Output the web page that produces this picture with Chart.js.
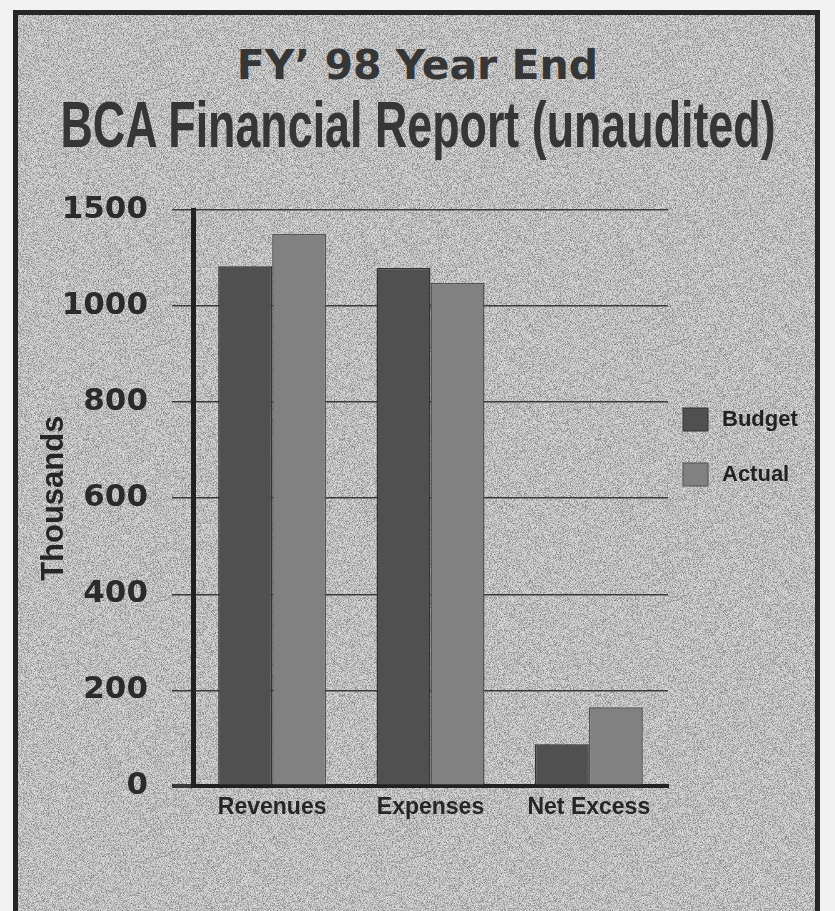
<!DOCTYPE html>
<html>
<head>
<meta charset="utf-8">
<title>BCA Financial Report</title>
<script src="https://cdn.jsdelivr.net/npm/chart.js@4.4.0/dist/chart.umd.min.js"></script>
<style>
  html, body { margin: 0; padding: 0; background: #f2f2f2; }
  #page { position: relative; width: 835px; height: 911px; overflow: hidden; }
  #frame {
    position: absolute; left: 13px; top: 10px; width: 797px; height: 930px;
    border: 5px solid #262626;
    background-color: #d9d9d9;
    background-image: url("data:image/svg+xml;utf8,<svg xmlns='http://www.w3.org/2000/svg' width='256' height='256'><filter id='n'><feTurbulence type='fractalNoise' baseFrequency='1.4' numOctaves='1' stitchTiles='stitch'/><feColorMatrix values='0 0 0 0 0  0 0 0 0 0  0 0 0 0 0  0 0 0 1.1 -0.42'/></filter><rect width='100%' height='100%' filter='url(%23n)'/></svg>");
  }
  .t { position: absolute; left: 0; width: 835px; height: 80px; line-height: 1; color: #363636; white-space: nowrap; }
  .t span { position: absolute; left: 50%; top: 0; transform-origin: center; }
  #t1 { top: 41px; font: bold 41px 'DejaVu Sans', sans-serif; }
  #t1 span { transform: translateX(-50%); }
  #t2 { top: 88px; font: bold 64px 'Liberation Sans', sans-serif; }
  #t2 span { transform: translateX(-50%) scaleX(0.70); }
  canvas { position: absolute; left: 0; top: 0; }
</style>
</head>
<body>
<div id="page">
  <div id="frame"></div>
  <div class="t" id="t1"><span>FY’ 98 Year End</span></div>
  <div class="t" id="t2"><span>BCA Financial Report (unaudited)</span></div>
  <canvas id="chart" width="835" height="911"></canvas>
</div>
<script>
const categories = ['Revenues', 'Expenses', 'Net Excess'];
const seriesNames = ['Budget', 'Actual'];
const budget = [1083, 1079, 88];
const actual = [1150, 1048, 165];
// the original axis reads 1000 then 1500 on the top line, kept as printed
const yTickLabels = ['0', '200', '400', '600', '800', '1000', '1500'];

// legend drawn to the right of the plot, like the printed one
const sideLegend = {
  id: 'sideLegend',
  afterDraw(chart) {
    const { ctx, chartArea } = chart;
    ctx.save();
    chart.data.datasets.forEach((ds, i) => {
      const x = chartArea.right + 15;
      const y = chartArea.top + 198 + i * 55;
      ctx.fillStyle = ds.backgroundColor;
      ctx.fillRect(x, y, 25, 23);
      ctx.strokeStyle = ds.borderColor;
      ctx.lineWidth = 1;
      ctx.strokeRect(x, y, 25, 23);
      ctx.fillStyle = '#222';
      ctx.font = 'bold 22px "Liberation Sans"';
      ctx.textBaseline = 'middle';
      ctx.fillText(ds.label, x + 39, y + 12);
    });
    ctx.restore();
  }
};

const ctx = document.getElementById('chart').getContext('2d');
new Chart(ctx, {
  type: 'bar',
  data: {
    labels: categories,
    datasets: [{
      label: seriesNames[0],
      data: budget,
      backgroundColor: '#505050',
      borderColor: '#333333',
      borderWidth: 1.5
    }, {
      label: seriesNames[1],
      data: actual,
      backgroundColor: '#818181',
      borderColor: '#555555',
      borderWidth: 1.5
    }]
  },
  options: {
    responsive: false,
    animation: false,
    layout: {
      padding: { top: 210, right: 167, bottom: 83, left: 20 }
    },
    datasets: {
      bar: { categoryPercentage: 0.682, barPercentage: 1.0 }
    },
    scales: {
      x: {
        grid: { display: false, drawTicks: false },
        border: { width: 4, color: '#222' },
        ticks: {
          padding: 7,
          color: '#262626',
          font: { family: 'Liberation Sans', weight: 'bold', size: 23 }
        }
      },
      y: {
        min: 0,
        max: 1200,
        afterFit: (scale) => { scale.width = 173; },
        grid: {
          color: '#3a3a3a',
          lineWidth: (c) => c.index === 0 ? 4 : 1.5,
          tickLength: 21
        },
        border: { width: 5, color: '#222' },
        ticks: {
          stepSize: 200,
          padding: 24,
          color: '#2b2b2b',
          font: { family: 'DejaVu Sans', weight: 'bold', size: 31 },
          callback: (value, index) => yTickLabels[index]
        },
        title: {
          display: true,
          text: 'Thousands',
          color: '#262626',
          padding: { top: 16, bottom: 4 },
          font: { family: 'Liberation Sans', weight: 'bold', size: 31 }
        }
      }
    },
    plugins: {
      legend: { display: false },
      tooltip: { enabled: false }
    }
  },
  plugins: [sideLegend]
});
</script>
</body>
</html>
